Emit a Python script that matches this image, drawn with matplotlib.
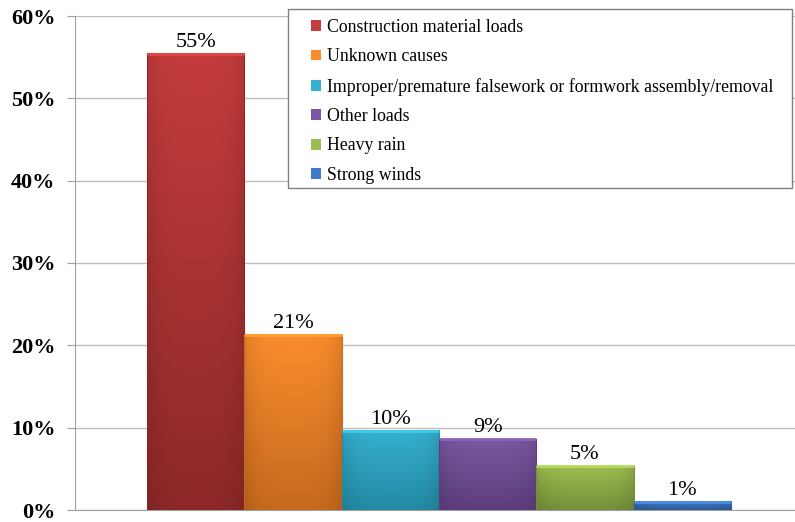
import numpy as np
import matplotlib.pyplot as plt
from matplotlib.colors import to_rgb
from matplotlib.patches import Rectangle

causes = ["Construction material loads", "Unknown causes",
          "Improper/premature falsework or formwork assembly/removal",
          "Other loads", "Heavy rain", "Strong winds"]
shares = [55.4, 21.3, 9.6, 8.6, 5.3, 1.0]
top_colors = ["#C43C3C", "#FA8C2E", "#36B0CF", "#7B57A2", "#9DBD50", "#4079C6"]
bottom_colors = ["#8C2828", "#C66A1E", "#238AA3", "#5C3E7C", "#74903A", "#2E5C98"]
yticks = [0, 10, 20, 30, 40, 50, 60]

plt.rcParams["font.family"] = ["Liberation Serif", "DejaVu Serif"]

fig = plt.figure(figsize=(7.95, 5.22), dpi=100)
ax = fig.add_axes([75 / 795, 12 / 522, 728 / 795, 494 / 522])

x = np.arange(len(shares))
bars = ax.bar(x, shares, width=1.0, color=top_colors, edgecolor="none", zorder=2)

# vertical gradient with darker side edges on every bar
for bar, c_top, c_bot in zip(bars, top_colors, bottom_colors):
    t = np.array(to_rgb(c_top))
    b = np.array(to_rgb(c_bot))
    rows = np.linspace(0, 1, 60)[:, None, None]
    img = t * (1 - rows) + b * rows
    img = np.repeat(img, 40, axis=1)
    cols = np.linspace(-1, 1, 40)
    shade = 1 - 0.10 * np.abs(cols) ** 4
    img = img * shade[None, :, None]
    x0 = bar.get_x()
    w = bar.get_width()
    h = bar.get_height()
    ax.imshow(np.clip(img, 0, 1), extent=[x0, x0 + w, 0, h], aspect="auto",
              zorder=3, interpolation="bilinear")
    ax.plot([x0, x0], [0, h], color=c_bot, lw=0.8, zorder=4)
    ax.plot([x0 + w, x0 + w], [0, h], color=c_bot, lw=0.8, zorder=4)
    # soft light rim along the top
    ax.plot([x0, x0 + w], [h, h], color=np.minimum(1, t * 1.15), lw=2.0,
            zorder=4, solid_capstyle="butt")
    ax.annotate(f"{h:.0f}%", (x0 + w / 2, h), xytext=(0, 1.5),
                textcoords="offset points", ha="center", va="bottom",
                fontsize=16, zorder=5)

ax.set_xlim(-1.24, 6.24)
ax.set_ylim(0, 60)
ax.set_yticks(yticks)
ax.set_yticklabels([f"{v}%" for v in yticks], fontsize=16, fontweight="bold")
ax.set_xticks([])
ax.grid(axis="y", color="#BDBDBD", lw=1.0, zorder=0)
ax.tick_params(axis="y", length=6, color="#A0A0A0", pad=8)
for side in ["top", "right"]:
    ax.spines[side].set_visible(False)
for side in ["left", "bottom"]:
    ax.spines[side].set_color("#A0A0A0")

# legend box drawn separately so the entries can sit inset from its edge
box = Rectangle((288 / 795, 1 - 188 / 522), 504 / 795, 179 / 522,
                transform=fig.transFigure, facecolor="white",
                edgecolor="#808080", lw=1.0, zorder=5)
fig.add_artist(box)

handles = [Rectangle((0, 0), 1, 1, facecolor=c, edgecolor="none")
           for c in top_colors]
leg = fig.legend(handles, causes, loc="upper left",
                 bbox_to_anchor=(311 / 795, 1 - 19 / 522),
                 fontsize=12.75, frameon=False,
                 handlelength=0.55, handleheight=0.55, handletextpad=0.35,
                 labelspacing=0.7, borderpad=0, borderaxespad=0)
leg.set_zorder(6)

fig.savefig("out.png", dpi=100)
